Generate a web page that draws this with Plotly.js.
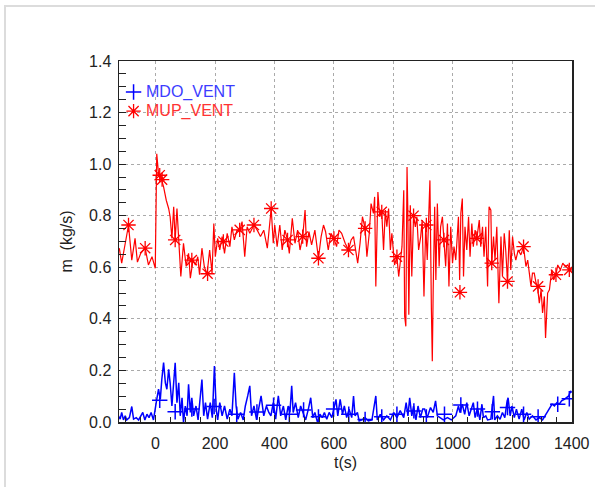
<!DOCTYPE html>
<html>
<head>
<meta charset="utf-8">
<script src="https://cdn.plot.ly/plotly-3.0.1.min.js"></script>
<style>
  html, body { margin: 0; padding: 0; background: #fff; }
  #wrap { position: relative; width: 595px; height: 487px; }
  #chart { position: absolute; left: 0; top: 0; width: 595px; height: 487px; }
  #frame { position: absolute; left: 4px; top: 5px; width: 591px; height: 482px;
           border-top: 2px solid #dcdcdc; border-left: 2px solid #dcdcdc;
           pointer-events: none; z-index: 10; }
</style>
</head>
<body>
<div id="wrap"><div id="chart"></div><div id="frame"></div></div>
<script>
// MUP_VENT (red) line samples: time (s), mass flow (kg/s)
const mupT = [-122,-114,-106,-91,-80,-69,-61,-50,-35,-24,-12,-1,4,10,16,21,27,36,44,49,55,61,66,72,78,85,94,103,111,117,126,134,142,148,156,164,173,182,190,196,201,209,216,224,232,241,250,257,265,274,283,291,300,308,317,331,342,353,364,376,389,396,401,409,418,426,435,444,450,460,469,478,486,495,503,508,516,525,536,548,557,565,572,581,590,600,609,617,626,638,649,658,666,674,680,688,696,705,711,719,725,733,737,741,748,754,761,767,773,778,784,790,795,804,812,818,823,829,835,838,842,846,849,852,857,862,868,874,879,885,892,897,903,909,914,920,923,928,931,934,939,943,948,954,959,965,970,976,982,987,993,999,1004,1010,1019,1023,1027,1032,1036,1041,1047,1053,1058,1064,1069,1075,1081,1089,1094,1100,1105,1111,1117,1122,1128,1131,1137,1142,1148,1155,1162,1167,1173,1178,1184,1190,1195,1201,1207,1212,1220,1229,1238,1246,1252,1257,1263,1268,1274,1280,1285,1291,1297,1302,1308,1312,1319,1325,1333,1339,1347,1353,1362,1370,1378,1387,1394,1400];
const mupV = [0.674,0.616,0.667,0.763,0.628,0.712,0.620,0.654,0.674,0.609,0.641,0.596,1.040,0.963,0.957,0.937,0.912,0.860,0.828,0.796,0.712,0.835,0.706,0.828,0.719,0.564,0.693,0.603,0.654,0.558,0.628,0.609,0.641,0.571,0.674,0.603,0.571,0.667,0.577,0.770,0.641,0.712,0.667,0.719,0.654,0.732,0.680,0.757,0.706,0.744,0.738,0.777,0.641,0.757,0.732,0.764,0.744,0.719,0.744,0.674,0.828,0.693,0.764,0.680,0.764,0.667,0.744,0.706,0.654,0.790,0.693,0.744,0.667,0.719,0.822,0.680,0.738,0.687,0.744,0.635,0.719,0.764,0.738,0.667,0.732,0.712,0.680,0.744,0.732,0.693,0.667,0.706,0.719,0.667,0.616,0.693,0.796,0.751,0.641,0.732,0.847,0.809,0.873,0.526,0.892,0.796,0.815,0.667,0.822,0.757,0.828,0.667,0.732,0.609,0.641,0.564,0.628,0.680,0.899,0.410,0.371,0.989,0.796,0.416,0.841,0.564,0.800,0.757,0.796,0.667,0.719,0.783,0.487,0.764,0.628,0.822,0.937,0.436,0.236,0.513,0.835,0.551,0.847,0.603,0.757,0.796,0.706,0.603,0.770,0.526,0.757,0.616,0.680,0.628,0.796,0.551,0.809,0.867,0.564,0.757,0.667,0.796,0.641,0.770,0.680,0.744,0.712,0.783,0.680,0.757,0.641,0.757,0.526,0.835,0.822,0.616,0.719,0.628,0.757,0.461,0.719,0.564,0.732,0.667,0.545,0.744,0.590,0.719,0.654,0.628,0.667,0.648,0.680,0.603,0.628,0.590,0.526,0.577,0.577,0.539,0.526,0.461,0.513,0.423,0.487,0.326,0.500,0.513,0.590,0.551,0.571,0.609,0.590,0.616,0.603,0.609,0.590,0.596];
// MUP_VENT symbol positions
const mupSymT = [-91,-35,14,22,66,122,175,228,283,331,389,444,495,548,600,649,705,761,812,868,911,970,1024,1081,1131,1184,1238,1287,1347,1392];
const mupSymV = [0.764,0.674,0.957,0.940,0.706,0.628,0.575,0.700,0.745,0.764,0.828,0.706,0.719,0.635,0.712,0.667,0.751,0.815,0.641,0.800,0.764,0.706,0.503,0.712,0.616,0.545,0.680,0.526,0.571,0.590];

// MDO_VENT (blue) line samples
const mdoT = [-125,-119,-114,-108,-102,-97,-88,-80,-74,-65,-57,-50,-43,-36,-29,-22,-15,-7,0,4,10,16,21,27,33,38,44,49,55,61,66,72,78,83,89,94,100,106,111,117,122,128,136,143,151,156,162,168,175,184,191,198,204,209,216,224,232,241,250,257,265,271,277,286,295,302,310,317,323,331,340,347,355,364,373,381,388,396,404,413,421,430,438,446,452,458,463,471,480,488,497,505,514,522,529,536,545,553,561,568,576,584,593,601,607,613,621,629,635,643,651,660,666,671,679,685,694,705,716,728,741,746,756,767,778,790,801,812,823,835,843,849,855,862,868,876,883,891,899,905,914,925,934,942,948,957,968,982,995,1010,1019,1024,1032,1040,1047,1055,1063,1069,1075,1083,1091,1098,1103,1111,1117,1128,1137,1141,1150,1159,1167,1175,1182,1186,1193,1199,1207,1214,1223,1232,1240,1249,1257,1268,1280,1291,1302,1310,1319,1327,1334,1342,1350,1358,1366,1375,1383,1390,1396,1400];
const mdoV = [0.024,0.011,0.037,0.008,0.024,0.008,0.017,0.060,0.011,0.017,0.008,0.024,0.037,0.008,0.030,0.017,0.037,0.008,0.050,0.088,0.127,0.088,0.165,0.230,0.152,0.127,0.204,0.152,0.062,0.178,0.230,0.075,0.152,0.024,0.094,-0.002,0.062,0.024,0.146,0.037,0.094,0.024,0.062,0.008,0.094,0.165,0.024,0.075,0.011,0.075,0.017,0.217,0.050,0.008,0.075,0.024,0.062,0.011,0.050,0.024,0.191,0.062,0.011,0.037,0.008,0.062,0.101,0.140,0.024,0.062,0.008,0.050,0.101,0.024,0.062,0.037,0.024,0.075,0.011,0.101,0.024,0.062,0.008,0.062,0.037,0.140,0.037,0.075,0.017,0.062,0.037,0.008,0.050,0.094,0.017,0.037,-0.002,0.030,0.017,0.037,0.011,0.037,0.017,0.062,0.088,0.024,0.088,0.030,0.062,0.017,0.050,0.017,0.101,0.024,0.037,0.004,0.008,0.017,0.004,0.008,0.101,0.008,0.030,0.008,0.024,0.008,0.037,0.017,0.044,0.017,0.075,0.024,0.094,0.024,0.062,0.008,0.062,0.017,0.050,0.050,0.017,0.056,0.037,0.082,0.024,0.017,0.008,0.017,0.008,0.024,0.062,0.037,0.069,0.030,0.075,0.024,0.050,0.075,0.017,0.056,0.008,0.069,0.017,0.024,0.008,0.011,0.101,0.008,0.024,0.011,0.037,0.017,0.075,0.094,0.024,0.062,0.017,0.050,0.011,0.050,0.008,0.037,0.011,0.024,0.008,0.017,0.008,0.024,0.037,0.056,0.069,0.062,0.075,0.069,0.082,0.088,0.094,0.101,0.120,0.114];
// MDO_VENT symbol positions
const mdoSymT = [14,66,122,197,273,341,397,450,498,548,599,650,705,761,812,869,911,972,1027,1083,1133,1184,1238,1287,1353,1392];
const mdoSymV = [0.084,0.040,0.050,0.060,0.030,0.039,0.065,0.030,0.047,0.020,0.050,0.030,0.010,0.020,0.030,0.043,0.020,0.030,0.066,0.050,0.040,0.056,0.030,0.020,0.069,0.090];

const seriesNames = ['MDO_VENT', 'MUP_VENT'];
const xTickVals = [0,200,400,600,800,1000,1200,1400];
const yTickVals = [0.0,0.2,0.4,0.6,0.8,1.0,1.2,1.4];
const yTickText = ['0.0','0.2','0.4','0.6','0.8','1.0','1.2','1.4'];

const RED = 'rgb(255,0,0)', BLUE = 'rgb(0,0,255)';
const FONT = 'Liberation Sans, Arial, sans-serif';

const traces = [
  {x: mdoT, y: mdoV, type: 'scatter', mode: 'lines', line: {color: BLUE, width: 1.5}, showlegend: false, hoverinfo: 'skip'},
  {x: mupT, y: mupV, type: 'scatter', mode: 'lines', line: {color: RED, width: 1.2}, showlegend: false, hoverinfo: 'skip'},
  {x: mdoSymT, y: mdoSymV, type: 'scatter', mode: 'markers', name: ' ', legend: 'legend',
   marker: {symbol: 'cross-thin-open', size: 11, color: BLUE, line: {color: BLUE, width: 1.5}}},
  {x: mupSymT, y: mupSymV, type: 'scatter', mode: 'markers', name: ' ', legend: 'legend2',
   marker: {symbol: 'asterisk-open', size: 12, color: RED, line: {color: RED, width: 1.3}}}
];

const axisCommon = {
  showline: true, linecolor: '#222', linewidth: 1.5, mirror: true,
  showgrid: true, gridcolor: '#aaaaaa', griddash: 'dot', gridwidth: 1,
  zeroline: false, ticks: 'inside', tickcolor: '#222', ticklen: 7, tickwidth: 1,
  tickfont: {family: FONT, size: 16, color: '#222'}
};

const legendCommon = {xanchor: 'left', yanchor: 'middle', bgcolor: 'rgba(0,0,0,0)',
  borderwidth: 0, itemwidth: 30, font: {family: FONT, size: 16}};

const layout = {
  width: 595, height: 487,
  margin: {l: 119, r: 23, t: 61, b: 65},
  paper_bgcolor: '#fff', plot_bgcolor: '#fff',
  font: {family: FONT, size: 16, color: '#222'},
  xaxis: Object.assign({}, axisCommon, {
    range: [-123, 1401], tickmode: 'array', tickvals: xTickVals,
    minor: {dtick: 50, tick0: 0, ticks: 'inside', ticklen: 5, tickcolor: '#222', showgrid: false},
    ticklabelstandoff: 6,
    title: {text: 't(s)', font: {family: FONT, size: 16, color: '#222'}, standoff: 6}
  }),
  yaxis: Object.assign({}, axisCommon, {
    range: [0, 1.4], tickmode: 'array', tickvals: yTickVals, ticktext: yTickText,
    minor: {dtick: 0.05, tick0: 0, ticks: 'inside', ticklen: 7, tickcolor: '#222', showgrid: false},
    ticklabelstandoff: 3,
    title: {text: 'm  (kg/s)', font: {family: FONT, size: 16, color: '#222'}, standoff: 12}
  }),
  legend: Object.assign({}, legendCommon, {x: -0.012, y: 0.914}),
  legend2: Object.assign({}, legendCommon, {x: -0.012, y: 0.861}),
  annotations: [
    {xref: 'paper', yref: 'paper', x: 0.056, y: 0.914, xanchor: 'left', yanchor: 'middle',
     text: seriesNames[0], showarrow: false, font: {family: FONT, size: 16, color: 'rgb(60,60,255)'}},
    {xref: 'paper', yref: 'paper', x: 0.056, y: 0.861, xanchor: 'left', yanchor: 'middle',
     text: seriesNames[1], showarrow: false, font: {family: FONT, size: 16, color: 'rgb(255,50,50)'}}
  ],
  showlegend: true
};

Plotly.newPlot('chart', traces, layout, {displayModeBar: false, staticPlot: true});
</script>
</body>
</html>
